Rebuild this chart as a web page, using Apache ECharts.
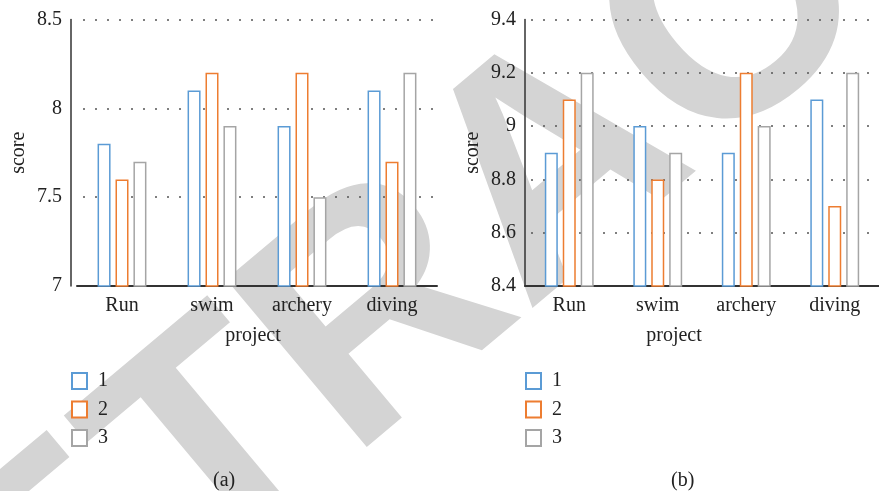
<!DOCTYPE html>
<html>
<head>
<meta charset="utf-8">
<script src="https://cdn.jsdelivr.net/npm/echarts@6/dist/echarts.min.js"></script>
<style>
  html, body { margin: 0; padding: 0; background: #fff; }
  #chart { width: 879px; height: 491px; }
</style>
</head>
<body>
<div id="chart"></div>
<script>
// categories shared by both panels
const projects = ['Run', 'swim', 'archery', 'diving'];
const seriesNames = ['1', '2', '3'];

// panel (a)
const aScores1 = [7.8, 8.1, 7.9, 8.1];
const aScores2 = [7.6, 8.2, 8.2, 7.7];
const aScores3 = [7.7, 7.9, 7.5, 8.2];

// panel (b)
const bScores1 = [8.9, 9.0, 8.9, 9.1];
const bScores2 = [9.1, 8.8, 9.2, 8.7];
const bScores3 = [9.2, 8.9, 9.0, 9.2];

const colors = ['#5b9bd5', '#ed7d31', '#a5a5a5'];
const font = 'Liberation Serif';
const textColor = '#222';

const chart = echarts.init(document.getElementById('chart'));

const makeX = (idx, padRight) => ({
  type: 'category',
  gridIndex: idx,
  data: projects,
  name: 'project',
  nameLocation: 'middle',
  nameGap: 40,
  nameTextStyle: { fontFamily: font, fontSize: 20, color: textColor, padding: [0, padRight, 0, 0] },
  axisLine: { lineStyle: { color: '#333', width: 2 } },
  axisTick: { show: false },
  axisLabel: { fontFamily: font, fontSize: 20, color: textColor, margin: 10 },
  splitLine: { show: false }
});

const makeY = (idx, min, max, step, offset) => ({
  type: 'value',
  gridIndex: idx,
  min: min,
  max: max,
  interval: step,
  offset: offset,
  name: 'score',
  nameLocation: 'middle',
  nameGap: 42,
  nameTextStyle: { fontFamily: font, fontSize: 20, color: textColor },
  axisLine: { show: true, lineStyle: { color: '#333', width: 1.5 } },
  axisTick: { show: false },
  axisLabel: { fontFamily: font, fontSize: 20, color: textColor, margin: 9 },
  splitLine: { lineStyle: { color: '#555', width: 1.5, type: [2, 10], dashOffset: -6 } }
});

const makeBar = (name, data, idx, color) => ({
  name: name,
  type: 'bar',
  xAxisIndex: idx,
  yAxisIndex: idx,
  data: data,
  barWidth: 13,
  barGap: '38%',
  itemStyle: { color: '#fff', borderColor: color, borderWidth: 1.5 }
});

const makeLegend = (left) => ({
  orient: 'vertical',
  left: left,
  top: 366,
  itemWidth: 15,
  itemHeight: 16,
  itemGap: 8.5,
  icon: 'rect',
  data: seriesNames,
  textStyle: { fontFamily: font, fontSize: 20, color: textColor, padding: [0, 0, 0, 6] }
});

const option = {
  animation: false,
  graphic: [
    {
      // grey watermark behind the plot
      type: 'text',
      silent: true,
      z: -10,
      x: 558,
      y: 172,
      rotation: 40 * Math.PI / 180,
      style: {
        text: 'RETRACTED',
        fontSize: 318,
        fontWeight: 'bold',
        fontFamily: 'Liberation Sans',
        fill: '#d4d4d4',
        align: 'center',
        verticalAlign: 'middle'
      }
    }
  ],
  title: [
    { text: '(a)', left: 208, top: 466, textStyle: { fontFamily: font, fontSize: 20, fontWeight: 'normal', color: textColor } },
    { text: '(b)', left: 666, top: 466, textStyle: { fontFamily: font, fontSize: 20, fontWeight: 'normal', color: textColor } }
  ],
  legend: [makeLegend(66), makeLegend(520)],
  grid: [
    { left: 77, width: 360, top: 19.5, bottom: 205 },
    { left: 525, width: 360, top: 19.5, bottom: 205 }
  ],
  xAxis: [makeX(0, 8), makeX(1, 56)],
  yAxis: [makeY(0, 7, 8.5, 0.5, 6), makeY(1, 8.4, 9.4, 0.2, 0)],
  series: [
    makeBar(seriesNames[0], aScores1, 0, colors[0]),
    makeBar(seriesNames[1], aScores2, 0, colors[1]),
    makeBar(seriesNames[2], aScores3, 0, colors[2]),
    makeBar(seriesNames[0], bScores1, 1, colors[0]),
    makeBar(seriesNames[1], bScores2, 1, colors[1]),
    makeBar(seriesNames[2], bScores3, 1, colors[2])
  ]
};

chart.setOption(option);
</script>
</body>
</html>
